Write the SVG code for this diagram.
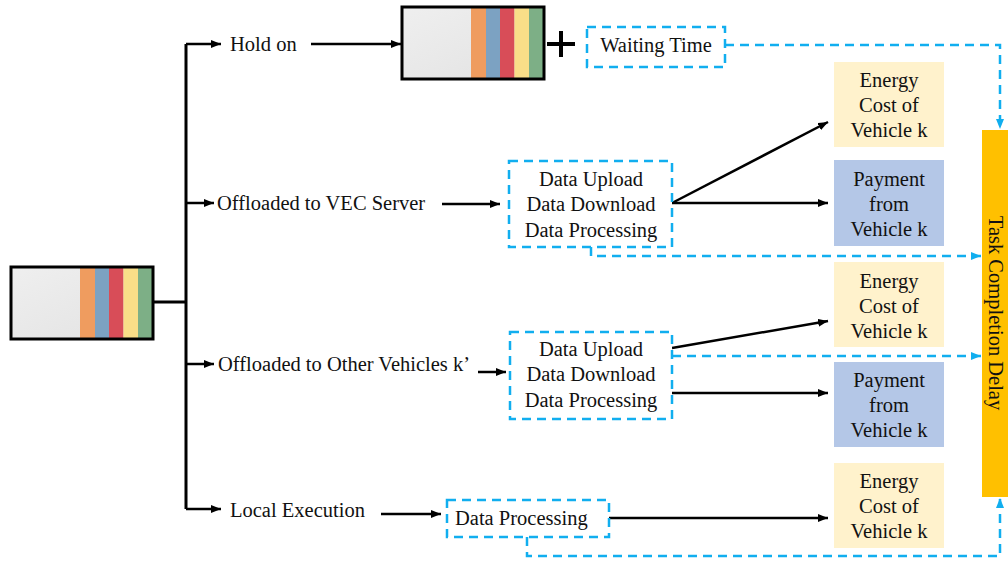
<svg xmlns="http://www.w3.org/2000/svg" width="1008" height="562" viewBox="0 0 1008 562">
  <style>
    text { font-family: "Liberation Serif", "Times New Roman", serif; font-size: 20.5px; fill: #111; }
    .mid { text-anchor: middle; }
    .frame { fill: none; stroke: #000; stroke-width: 3; }
    .dashbox { fill: #fff; stroke: #11AEEF; stroke-width: 2.5; stroke-dasharray: 9 6; }
    .flow { fill: none; stroke: #000; stroke-width: 2.5; }
    .trunk { fill: none; stroke: #000; stroke-width: 3; }
    .delay { fill: none; stroke: #11AEEF; stroke-width: 2.5; stroke-dasharray: 9 6; }
    .energy { fill: #FFF2CC; }
    .payment { fill: #B4C7E7; }
  </style>
  <defs>
    <marker id="ah" markerUnits="userSpaceOnUse" markerWidth="10" markerHeight="8" viewBox="0 0 10 8" refX="10" refY="4" orient="auto">
      <path d="M0,0 L10,4 L0,8 z" fill="#000"/>
    </marker>
    <marker id="ahb" markerUnits="userSpaceOnUse" markerWidth="10" markerHeight="8" viewBox="0 0 10 8" refX="10" refY="4" orient="auto">
      <path d="M0,0 L10,4 L0,8 z" fill="#11AEEF"/>
    </marker>
    <linearGradient id="paper" x1="0" y1="0" x2="1" y2="1">
      <stop offset="0" stop-color="#EFEFEF"/>
      <stop offset="1" stop-color="#E2E2E2"/>
    </linearGradient>
    <!-- task strip: blank area followed by five coloured bands -->
    <g id="strip">
      <rect x="0" y="0" width="142" height="72" fill="url(#paper)"/>
      <rect x="69" y="0" width="15" height="72" fill="#EF9C5F"/>
      <rect x="84" y="0" width="14" height="72" fill="#7CA2C2"/>
      <rect x="98" y="0" width="14.5" height="72" fill="#D84D58"/>
      <rect x="112.5" y="0" width="14.5" height="72" fill="#F9DE88"/>
      <rect x="127" y="0" width="15" height="72" fill="#7DAF86"/>
      <rect x="0" y="0" width="142" height="72" class="frame"/>
    </g>
  </defs>

  <rect width="1008" height="562" fill="#fff"/>

  <!-- connectors -->
  <g id="connectors">
    <path class="trunk" d="M153,302 H186"/>
    <path class="trunk" d="M186,44 V509"/>
    <path class="flow" d="M186,44 H221" marker-end="url(#ah)"/>
    <path class="flow" d="M186,203 H214" marker-end="url(#ah)"/>
    <path class="flow" d="M186,364 H214" marker-end="url(#ah)"/>
    <path class="flow" d="M186,509 H221" marker-end="url(#ah)"/>

    <path class="flow" d="M311,44 H401" marker-end="url(#ah)"/>
    <path class="flow" d="M442,204 H500" marker-end="url(#ah)"/>
    <path class="flow" d="M478,372 H506" marker-end="url(#ah)"/>
    <path class="flow" d="M381,514 H441" marker-end="url(#ah)"/>

    <path class="flow" d="M672,203 L828,122" marker-end="url(#ah)"/>
    <path class="flow" d="M672,203 H828" marker-end="url(#ah)"/>
    <path class="flow" d="M672,348 L828,321" marker-end="url(#ah)"/>
    <path class="flow" d="M672,393 H828" marker-end="url(#ah)"/>
    <path class="flow" d="M609,518 H828" marker-end="url(#ah)"/>

    <path class="delay" d="M725,45 H1000 V129" marker-end="url(#ahb)"/>
    <path class="delay" d="M591,247 V256 H981" marker-end="url(#ahb)"/>
    <path class="delay" d="M672,356 H981" marker-end="url(#ahb)"/>
    <path class="delay" d="M527,537 V556 H1000 V498" marker-end="url(#ahb)"/>
  </g>

  <g id="task-input">
    <use href="#strip" x="11" y="267"/>
  </g>

  <g id="hold-on">
    <text x="230" y="51">Hold on</text>
  </g>
  <g id="queued-task">
    <use href="#strip" x="402" y="7"/>
  </g>
  <g id="plus">
    <path d="M547,44 H575 M561,31 V57" stroke="#000" stroke-width="4" fill="none"/>
  </g>
  <g id="waiting-time">
    <rect class="dashbox" x="587" y="27" width="138" height="40"/>
    <text class="mid" x="656" y="52">Waiting Time</text>
  </g>

  <g id="vec-server">
    <text x="217" y="210">Offloaded to VEC Server</text>
  </g>
  <g id="vec-transfer">
    <rect class="dashbox" x="509" y="161" width="163" height="86"/>
    <text class="mid" x="591" y="186">Data Upload</text>
    <text class="mid" x="591" y="211">Data Download</text>
    <text class="mid" x="591" y="237">Data Processing</text>
  </g>
  <g id="energy-1">
    <rect class="energy" x="834" y="62" width="110" height="85"/>
    <text class="mid" x="889" y="87">Energy</text>
    <text class="mid" x="889" y="112">Cost of</text>
    <text class="mid" x="889" y="137">Vehicle k</text>
  </g>
  <g id="payment-1">
    <rect class="payment" x="834" y="160" width="110" height="86"/>
    <text class="mid" x="889" y="186">Payment</text>
    <text class="mid" x="889" y="211">from</text>
    <text class="mid" x="889" y="236">Vehicle k</text>
  </g>

  <g id="other-vehicles">
    <text x="218" y="371">Offloaded to Other Vehicles k’</text>
  </g>
  <g id="v2v-transfer">
    <rect class="dashbox" x="510" y="332" width="162" height="87"/>
    <text class="mid" x="591" y="356">Data Upload</text>
    <text class="mid" x="591" y="381">Data Download</text>
    <text class="mid" x="591" y="407">Data Processing</text>
  </g>
  <g id="energy-2">
    <rect class="energy" x="834" y="262" width="110" height="85"/>
    <text class="mid" x="889" y="288">Energy</text>
    <text class="mid" x="889" y="313">Cost of</text>
    <text class="mid" x="889" y="338">Vehicle k</text>
  </g>
  <g id="payment-2">
    <rect class="payment" x="834" y="362" width="110" height="85"/>
    <text class="mid" x="889" y="387">Payment</text>
    <text class="mid" x="889" y="412">from</text>
    <text class="mid" x="889" y="437">Vehicle k</text>
  </g>

  <g id="local-execution">
    <text x="230" y="517">Local Execution</text>
  </g>
  <g id="local-processing">
    <rect class="dashbox" x="447" y="500" width="162" height="37"/>
    <text x="455" y="525">Data Processing</text>
  </g>
  <g id="energy-3">
    <rect class="energy" x="834" y="463" width="110" height="85"/>
    <text class="mid" x="889" y="488">Energy</text>
    <text class="mid" x="889" y="513">Cost of</text>
    <text class="mid" x="889" y="538">Vehicle k</text>
  </g>

  <g id="task-completion-delay">
    <rect x="982" y="130" width="26" height="367" fill="#FFC000"/>
    <text class="mid" transform="translate(989,313) rotate(90)">Task Completion Delay</text>
  </g>
</svg>
